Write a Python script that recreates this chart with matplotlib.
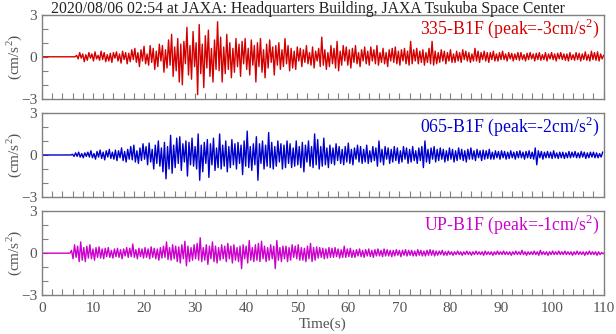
import numpy as np
import matplotlib
matplotlib.use("Agg")
import matplotlib.pyplot as plt
from matplotlib.ticker import MultipleLocator

plt.rcParams['font.family'] = ['Liberation Serif', 'DejaVu Serif']
plt.rcParams['mathtext.fontset'] = 'custom'
plt.rcParams['mathtext.rm'] = 'Liberation Serif'

title = "2020/08/06 02:54 at JAXA: Headquarters Building, JAXA Tsukuba Space Center"

# sampling of the peak lists (s) and trigger time of each channel
dt = 0.3
names = ["335-B1F", "065-B1F", "UP-B1F"]
peaks = [-3, -2, -1]
onsets = [6.8, 6.0, 5.8]
colors = ["#d40000", "#0000cc", "#cc00cc"]

# successive extremes of each acceleration record (cm/s^2), one every dt seconds
acc_335 = [
    0.1, -0.15, 0.3, -0.1, 0.2, -0.35, 0.15, -0.25, 0.3, -0.1,
    0.2, -0.3, 0.35, -0.15, 0.1, -0.25, 0.4, -0.2, 0.3, -0.35,
    0.15, -0.3, 0.25, -0.4, 0.3, -0.1, 0.35, -0.3, 0.2, -0.45,
    0.4, -0.2, 0.3, -0.5, 0.25, -0.35, 0.5, -0.2, 0.6, -0.4,
    0.3, -0.7, 0.5, -0.3, 0.75, -0.5, 0.2, -0.6, 0.8, -0.4,
    0.6, -0.9, 0.4, -0.7, 0.9, -0.3, 0.8, -1.1, 0.5, -0.8,
    1.2, -0.6, 1.6, -1.4, 0.7, -1.0, 1.3, -1.8, 0.9, -2.0,
    1.1, -0.5, 2.1, -1.3, 0.8, -1.6, 1.8, -0.7, 1.0, -2.7,
    2.3, -1.2, 0.9, -2.2, 1.5, -0.8, 1.9, -1.4, 0.6, -1.8,
    1.2, -0.9, 2.5, -1.0, 1.4, -1.8, 0.7, -1.2, 1.6, -0.9,
    1.0, -1.5, 0.6, -1.1, 1.3, -0.7, 0.9, -1.4, 1.1, -0.5,
    1.3, -0.9, 0.6, -1.3, 1.2, -0.6, 0.8, -1.8, 1.0, -0.7,
    1.3, -1.1, 0.5, -1.5, 0.9, -0.8, 1.2, -0.4, 0.7, -1.3,
    0.8, -0.6, 1.0, -0.9, 0.5, -0.7, 1.3, -0.5, 0.8, -1.0,
    0.6, -0.8, 0.4, -0.9, 0.7, -0.3, 0.6, -0.7, 0.5, -0.4,
    0.8, -0.5, 0.3, -0.6, 0.7, -0.8, 0.4, -0.3, 0.6, -0.7,
    1.4, -0.6, 0.5, -0.9, 0.3, -0.7, 0.8, -0.5, 0.6, -0.8,
    1.1, -1.0, 0.4, -0.6, 0.8, -0.3, 0.7, -0.6, 0.5, -0.8,
    0.6, -0.4, 0.8, -0.5, 0.3, -0.7, 0.5, -0.3, 0.7, -0.5,
    0.4, -0.6, 0.7, -0.3, 0.5, -0.5, 0.8, -0.6, 0.3, -0.4,
    0.6, -0.5, 0.3, -0.7, 0.5, -0.3, 0.6, -0.4, 0.7, -0.5,
    0.4, -0.6, 0.5, -0.3, 0.6, -0.5, 0.4, -0.6, 1.1, -0.5,
    0.5, -0.3, 0.6, -0.5, 0.4, -0.4, 0.5, -0.6, 0.3, -0.4,
    0.6, -0.5, 1.1, -0.6, 0.4, -0.5, 0.3, -0.4, 0.5, -0.3,
    0.4, -0.5, 0.3, -0.3, 0.5, -0.4, 0.2, -0.4, 0.4, -0.3,
    0.3, -0.4, 0.5, -0.2, 0.4, -0.3, 0.3, -0.4, 0.2, -0.3,
    0.6, -0.3, 0.4, -0.4, 0.3, -0.2, 0.4, -0.3, 0.3, -0.4,
    0.3, -0.2, 0.4, -0.3, 0.2, -0.3, 0.3, -0.2, 0.4, -0.2,
    0.2, -0.3, 0.3, -0.15, 0.25, -0.3, 0.2, -0.2, 0.3, -0.25,
    0.3, -0.2, 0.15, -0.3, 0.25, -0.2, 0.3, -0.15, 0.2, -0.3,
    0.25, -0.2, 0.3, -0.25, 0.15, -0.2, 0.3, -0.3, 0.2, -0.15,
    0.3, -0.2, 0.2, -0.3, 0.25, -0.15, 0.3, -0.2, 0.2, -0.25,
    0.2, -0.3, 0.3, -0.2, 0.15, -0.25, 0.3, -0.2, 0.25, -0.3,
    0.2, -0.2, 0.35, -0.25, 0.15, -0.3, 0.4, -0.2, 0.3, -0.25,
    0.35, -0.3, 0.2, -0.15, 0.1,
]

acc_065 = [
    0.05, -0.1, 0.15, -0.1, 0.2, -0.15, 0.1, -0.2, 0.15, -0.1,
    0.2, -0.15, 0.3, -0.2, 0.1, -0.3, 0.25, -0.15, 0.35, -0.25,
    0.2, -0.35, 0.3, -0.15, 0.4, -0.25, 0.2, -0.3, 0.35, -0.4,
    0.3, -0.2, 0.5, -0.4, 0.25, -0.5, 0.4, -0.3, 0.6, -0.35,
    0.7, -0.5, 0.3, -0.6, 0.5, -0.4, 0.8, -0.3, 0.6, -0.7,
    0.85, -0.5, 0.4, -1.0, 0.7, -0.6, 1.0, -0.8, 0.5, -1.2,
    0.9, -1.7, 0.6, -1.0, 1.4, -1.3, 0.7, -0.9, 1.2, -0.6,
    1.3, -1.1, 0.8, -0.5, 1.0, -1.5, 0.9, -0.7, 1.2, -0.8,
    0.6, -1.0, 1.5, -1.8, 0.7, -1.2, 0.9, -0.6, 1.1, -1.6,
    0.8, -0.7, 1.2, -1.1, 0.5, -0.9, 1.5, -1.0, 0.7, -0.8,
    1.0, -1.2, 0.6, -0.9, 1.1, -0.7, 0.8, -1.0, 0.9, -0.6,
    0.7, -1.4, 1.0, -0.8, 1.7, -0.9, 0.6, -1.1, 0.8, -0.7,
    1.3, -1.8, 0.8, -0.6, 1.0, -1.0, 0.7, -0.8, 1.6, -0.9,
    0.9, -1.0, 0.6, -0.8, 1.0, -0.5, 0.8, -1.0, 0.7, -0.9,
    1.0, -0.6, 0.8, -0.9, 0.5, -0.8, 1.0, -0.7, 0.6, -0.9,
    0.9, -1.2, 0.7, -0.5, 1.0, -0.8, 0.6, -0.9, 1.5, -0.7,
    1.1, -1.0, 0.6, -0.8, 1.2, -0.7, 0.5, -0.9, 0.7, -0.6,
    0.5, -0.7, 0.8, -0.4, 0.6, -0.6, 0.4, -0.7, 0.6, -0.5,
    0.85, -0.6, 0.4, -0.7, 0.5, -0.3, 0.7, -0.5, 0.6, -0.6,
    0.4, -0.5, 0.7, -0.6, 0.3, -0.5, 0.6, -0.4, 0.5, -0.8,
    1.0, -0.5, 0.4, -0.7, 0.6, -0.3, 0.5, -0.6, 0.4, -0.5,
    0.6, -0.4, 0.5, -0.6, 0.3, -0.5, 0.6, -0.3, 0.5, -0.6,
    0.4, -0.5, 0.6, -0.4, 0.3, -0.6, 0.5, -0.4, 0.6, -0.9,
    1.0, -0.5, 0.4, -0.6, 0.5, -0.3, 0.6, -0.5, 0.4, -0.4,
    0.5, -0.3, 0.4, -0.5, 0.3, -0.4, 0.5, -0.3, 0.4, -0.5,
    0.3, -0.4, 0.5, -0.3, 0.4, -0.4, 0.3, -0.5, 0.4, -0.3,
    0.5, -0.3, 0.3, -0.4, 0.4, -0.2, 0.3, -0.4, 0.35, -0.3,
    0.3, -0.25, 0.4, -0.3, 0.2, -0.3, 0.3, -0.2, 0.25, -0.3,
    0.3, -0.2, 0.25, -0.3, 0.2, -0.25, 0.3, -0.2, 0.2, -0.3,
    0.25, -0.2, 0.3, -0.2, 0.2, -0.3, 0.25, -0.2, 0.3, -0.25,
    0.2, -0.3, 0.5, -0.7, 0.3, -0.2, 0.25, -0.3, 0.2, -0.2,
    0.25, -0.2, 0.2, -0.25, 0.3, -0.2, 0.15, -0.25, 0.2, -0.2,
    0.2, -0.25, 0.15, -0.2, 0.25, -0.2, 0.2, -0.15, 0.25, -0.2,
    0.15, -0.2, 0.25, -0.15, 0.2, -0.25, 0.15, -0.2, 0.2, -0.15,
    0.2, -0.2, 0.15, -0.2, 0.1, -0.15, 0.2,
]

acc_up = [
    0.2, -0.4, 0.6, -0.3, 0.5, -0.6, 0.8, -0.5, 0.4, -0.6,
    0.5, -0.35, 0.6, -0.4, 0.3, -0.5, 0.4, -0.3, 0.45, -0.35,
    0.3, -0.4, 0.35, -0.25, 0.4, -0.3, 0.2, -0.35, 0.3, -0.25,
    0.35, -0.3, 0.25, -0.4, 0.3, -0.2, 0.4, -0.3, 0.35, -0.25,
    0.65, -0.3, 0.25, -0.4, 0.35, -0.25, 0.3, -0.35, 0.4, -0.3,
    0.3, -0.4, 0.45, -0.3, 0.35, -0.4, 0.3, -0.5, 0.4, -0.35,
    0.5, -0.3, 0.8, -0.45, 0.4, -0.5, 0.6, -0.4, 0.5, -0.6,
    0.45, -0.7, 0.6, -0.4, 0.85, -0.9, 0.5, -0.6, 0.4, -0.5,
    0.6, -0.4, 0.7, -0.5, 1.1, -0.6, 0.4, -0.5, 0.6, -0.8,
    0.5, -0.4, 0.8, -0.6, 0.5, -0.7, 0.4, -0.5, 0.6, -0.4,
    0.5, -0.6, 0.7, -0.4, 0.5, -0.7, 0.6, -0.5, 0.4, -0.6,
    0.5, -1.1, 0.6, -0.4, 0.5, -0.7, 0.9, -0.5, 0.4, -0.6,
    0.6, -0.5, 0.7, -0.6, 0.85, -0.4, 0.5, -0.6, 0.4, -0.5,
    0.6, -0.4, 0.5, -1.1, 0.9, -0.5, 0.4, -0.6, 0.5, -0.4,
    0.5, -0.6, 0.4, -0.5, 0.6, -0.3, 0.5, -0.4, 0.6, -0.5,
    0.4, -0.5, 0.35, -0.6, 0.5, -0.4, 0.7, -0.6, 0.4, -0.5,
    0.45, -0.35, 0.4, -0.3, 0.35, -0.4, 0.3, -0.35, 0.4, -0.3,
    0.35, -0.3, 0.4, -0.25, 0.3, -0.35, 0.25, -0.3, 0.5, -0.3,
    0.3, -0.25, 0.35, -0.3, 0.2, -0.3, 0.25, -0.2, 0.3, -0.25,
    0.2, -0.3, 0.25, -0.2, 0.3, -0.25, 0.2, -0.3, 0.25, -0.2,
    0.3, -0.2, 0.2, -0.25, 0.3, -0.2, 0.25, -0.2, 0.2, -0.25,
    0.2, -0.2, 0.25, -0.15, 0.2, -0.25, 0.2, -0.15, 0.25, -0.2,
    0.2, -0.15, 0.2, -0.2, 0.15, -0.2, 0.25, -0.15, 0.2, -0.2,
    0.15, -0.2, 0.2, -0.15, 0.25, -0.15, 0.2, -0.2, 0.15, -0.15,
    0.15, -0.1, 0.2, -0.15, 0.1, -0.15, 0.15, -0.1, 0.1, -0.15,
    0.1, -0.1, 0.15, -0.1, 0.1, -0.15, 0.1, -0.1, 0.15, -0.1,
    0.1, -0.15, 0.1, -0.1, 0.15, -0.1, 0.1, -0.1, 0.1, -0.15,
    0.15, -0.1, 0.1, -0.1, 0.1, -0.15, 0.1, -0.1, 0.15, -0.1,
    0.1, -0.1, 0.15, -0.1, 0.1, -0.1, 0.1, -0.15, 0.1, -0.1,
    0.15, -0.1, 0.1, -0.1, 0.2, -0.1, 0.1, -0.15, 0.1, -0.1,
    0.1, -0.1, 0.15, -0.1, 0.1, -0.15, 0.2, -0.1, 0.1, -0.1,
    0.1, -0.15, 0.1, -0.1, 0.15, -0.1, 0.1, -0.1, 0.15, -0.1,
    0.1, -0.1, 0.15, -0.1, 0.1, -0.1, 0.1, -0.15, 0.1, -0.1,
    0.15, -0.1, 0.1, -0.1, 0.1, -0.15, 0.1, -0.1, 0.15, -0.1,
    0.1, -0.1, 0.1, -0.15, 0.1, -0.1, 0.05, -0.05, 0.05, -0.05,
]

records = [acc_335, acc_065, acc_up]

grey = "#808080"
text_grey = "#555555"
fig = plt.figure(figsize=(6.16, 3.34), dpi=100)

# panel extents in figure fractions
left, width, height = 0.068, 0.912, 0.252
bottoms = [0.704, 0.410, 0.116]

for i, rec in enumerate(records):
    ax = fig.add_axes([left, bottoms[i], width, height])
    # flat line until the trigger, then the recorded extremes
    t = np.concatenate([[0.0, onsets[i] - dt], onsets[i] + dt * np.arange(len(rec))])
    a = np.concatenate([[0.0, 0.0], rec])
    ax.plot(t, a, color=colors[i], lw=1.0)

    ax.set_xlim(0, 110)
    ax.set_ylim(-3, 3)
    ax.set_yticks([-3, 0, 3])
    ax.yaxis.set_minor_locator(MultipleLocator(1))
    ax.xaxis.set_major_locator(MultipleLocator(10))
    ax.xaxis.set_minor_locator(MultipleLocator(2))
    ax.tick_params(which='both', direction='in', color=grey, labelcolor=text_grey,
                   labelsize=11, top=False, right=False, length=4, width=0.8)
    ax.tick_params(axis='x', pad=5)
    for s in ax.spines.values():
        s.set_color(grey)
        s.set_linewidth(1.0)
    if i < 2:
        ax.tick_params(labelbottom=False)
    else:
        ax.set_xlabel("Time(s)", fontsize=11, color=text_grey, labelpad=2)

    ax.set_ylabel(r"(cm/s$^{2}$)", fontsize=11, color=text_grey)
    ax.yaxis.set_label_coords(-0.031, 0.5)
    ax.text(0.993, 0.975, names[i] + r" (peak=%dcm/s$^{2}$)" % peaks[i],
            transform=ax.transAxes, ha='right', va='top',
            color=colors[i], fontsize=12.8)

fig.text(0.5, 0.997, title, ha='center', va='top', fontsize=11.3, color='#222222')

fig.savefig("out.png", dpi=100)
